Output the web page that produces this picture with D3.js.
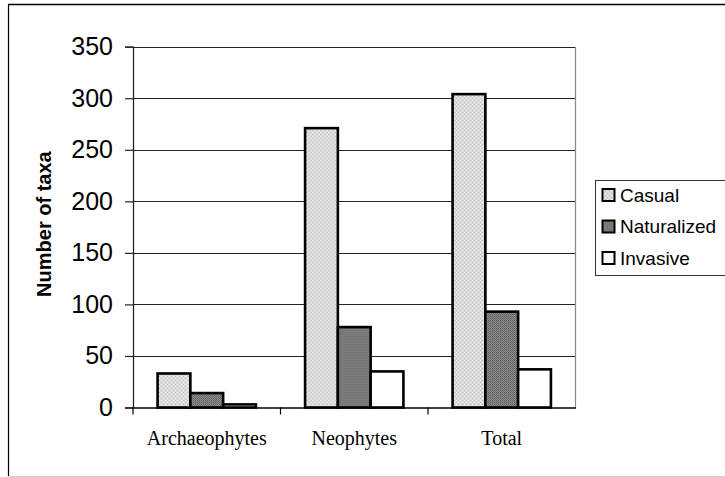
<!DOCTYPE html>
<html>
<head>
<meta charset="utf-8">
<script src="https://cdn.jsdelivr.net/npm/d3@7"></script>
<style>
  html, body { margin: 0; padding: 0; background: #fff; }
  svg { display: block; }
</style>
</head>
<body>
<svg id="chart" width="725" height="477"></svg>
<script>
// Alien flora: number of taxa by residence time and invasion status
const categories = ["Archaeophytes", "Neophytes", "Total"];
const seriesNames = ["Casual", "Naturalized", "Invasive"];
const casual = [33, 271, 304];
const naturalized = [14, 78, 93];
const invasive = [3, 35, 37];
const yTicks = [0, 50, 100, 150, 200, 250, 300, 350];
const yTitle = "Number of taxa";

const seriesValues = [casual, naturalized, invasive];

const svg = d3.select("#chart");
const W = 725, H = 477;

// Outer chart frame
svg.append("rect").attr("x", 0).attr("y", 0).attr("width", W).attr("height", H).attr("fill", "#fff");
svg.append("line").attr("x1", 8.5).attr("x2", 8.5).attr("y1", 4.5).attr("y2", 476).attr("stroke", "#000").attr("stroke-width", 1.2);
svg.append("line").attr("x1", 8).attr("x2", W).attr("y1", 4.5).attr("y2", 4.5).attr("stroke", "#000").attr("stroke-width", 1.5);
svg.append("line").attr("x1", 8).attr("x2", W).attr("y1", 476.5).attr("y2", 476.5).attr("stroke", "#d0d0d0").attr("stroke-width", 1);

// Fill patterns
const defs = svg.append("defs");
const pCas = defs.append("pattern").attr("id", "pat-casual").attr("patternUnits", "userSpaceOnUse").attr("width", 4).attr("height", 4);
pCas.append("rect").attr("width", 4).attr("height", 4).attr("fill", "#dadada");
pCas.append("rect").attr("x", 0).attr("y", 0).attr("width", 1).attr("height", 1).attr("fill", "#f2f2f2");
pCas.append("rect").attr("x", 2).attr("y", 2).attr("width", 1).attr("height", 1).attr("fill", "#f2f2f2");
pCas.append("rect").attr("x", 2).attr("y", 0).attr("width", 1).attr("height", 1).attr("fill", "#c4c4c4");
pCas.append("rect").attr("x", 0).attr("y", 2).attr("width", 1).attr("height", 1).attr("fill", "#c4c4c4");

const pNat = defs.append("pattern").attr("id", "pat-natur").attr("patternUnits", "userSpaceOnUse").attr("width", 2).attr("height", 2);
pNat.append("rect").attr("width", 2).attr("height", 2).attr("fill", "#8e8e8e");
pNat.append("rect").attr("x", 0).attr("y", 0).attr("width", 1).attr("height", 1).attr("fill", "#5e5e5e");
pNat.append("rect").attr("x", 1).attr("y", 1).attr("width", 1).attr("height", 1).attr("fill", "#6a6a6a");

const fills = ["url(#pat-casual)", "url(#pat-natur)", "#ffffff"];

// Scales
const x0 = d3.scaleBand().domain(categories).range([133, 575.5]).paddingInner(0).paddingOuter(0);
const x1 = d3.scaleBand().domain(seriesNames).range([0, x0.bandwidth()]).paddingInner(0).paddingOuter(0.75);
const y = d3.scaleLinear().domain([0, 350]).range([407.5, 46.7]);

const plotL = x0.range()[0], plotR = x0.range()[1];

// Gridlines
svg.append("g").selectAll("line").data(yTicks.filter(d => d > 0)).join("line")
  .attr("x1", plotL).attr("x2", plotR)
  .attr("y1", d => Math.round(y(d)) + 0.5).attr("y2", d => Math.round(y(d)) + 0.5)
  .attr("stroke", "#222").attr("stroke-width", 1);

// Plot area right border
svg.append("line").attr("x1", plotR).attr("x2", plotR).attr("y1", y(350)).attr("y2", y(0))
  .attr("stroke", "#888").attr("stroke-width", 1.2);

// Bars
const groups = svg.append("g").selectAll("g").data(categories).join("g")
  .attr("transform", d => `translate(${x0(d)},0)`);
groups.selectAll("rect")
  .data((c, ci) => seriesNames.map((s, si) => ({ s, si, v: seriesValues[si][ci] })))
  .join("rect")
  .attr("x", d => x1(d.s))
  .attr("width", x1.bandwidth())
  .attr("y", d => y(d.v))
  .attr("height", d => y(0) - y(d.v))
  .attr("fill", d => fills[d.si])
  .attr("stroke", "#000")
  .attr("stroke-width", 2.6);

// Y axis
const yAxis = d3.axisLeft(y).tickValues(yTicks).tickSize(8).tickPadding(12).tickFormat(d3.format("d"));
const gy = svg.append("g").attr("transform", `translate(${plotL},0)`).call(yAxis);
gy.select(".domain").attr("stroke", "#222").attr("stroke-width", 1.3);
gy.selectAll(".tick line").attr("stroke", "#222").attr("stroke-width", 1.2);
gy.selectAll(".tick text").attr("font-family", "'Liberation Sans', Arial, sans-serif")
  .attr("font-size", 25).attr("fill", "#000");

// X axis
const xAxis = d3.axisBottom(x0).tickSize(0).tickPadding(23);
const gx = svg.append("g").attr("transform", `translate(0,${y(0)})`).call(xAxis);
gx.select(".domain").attr("stroke", "#000").attr("stroke-width", 1.5);
gx.selectAll(".tick text").attr("font-family", "'Liberation Serif', 'Times New Roman', serif")
  .attr("font-size", 20).attr("fill", "#000");
// Category separators
const sepX = [plotL].concat(categories.map(c => x0(c) + x0.bandwidth()));
svg.append("g").selectAll("line").data(sepX.slice(0, 3)).join("line")
  .attr("x1", d => d).attr("x2", d => d)
  .attr("y1", y(0)).attr("y2", y(0) + 7)
  .attr("stroke", "#000").attr("stroke-width", 1.2);

// Y axis title
svg.append("text")
  .attr("transform", `translate(51,${(y(0) + y(350)) / 2 - 3}) rotate(-90)`)
  .attr("text-anchor", "middle")
  .attr("font-family", "'Liberation Sans', Arial, sans-serif")
  .attr("font-weight", "bold").attr("font-size", 20)
  .text(yTitle);

// Legend
const lg = svg.append("g").attr("transform", "translate(595,180)");
lg.append("rect").attr("x", 0.5).attr("y", 0.5).attr("width", 140).attr("height", 95)
  .attr("fill", "#fff").attr("stroke", "#333").attr("stroke-width", 1);
const items = lg.selectAll("g.item").data(seriesNames).join("g").attr("class", "item")
  .attr("transform", (d, i) => `translate(0,${15 + i * 31.5})`);
items.append("rect").attr("x", 7.5).attr("y", -6).attr("width", 12).attr("height", 12)
  .attr("fill", (d, i) => fills[i]).attr("stroke", "#000").attr("stroke-width", 2);
items.append("text").attr("x", 25).attr("y", 0).attr("dy", "0.36em")
  .attr("font-family", "'Liberation Sans', Arial, sans-serif").attr("font-size", 19)
  .text(d => d);
</script>
</body>
</html>
